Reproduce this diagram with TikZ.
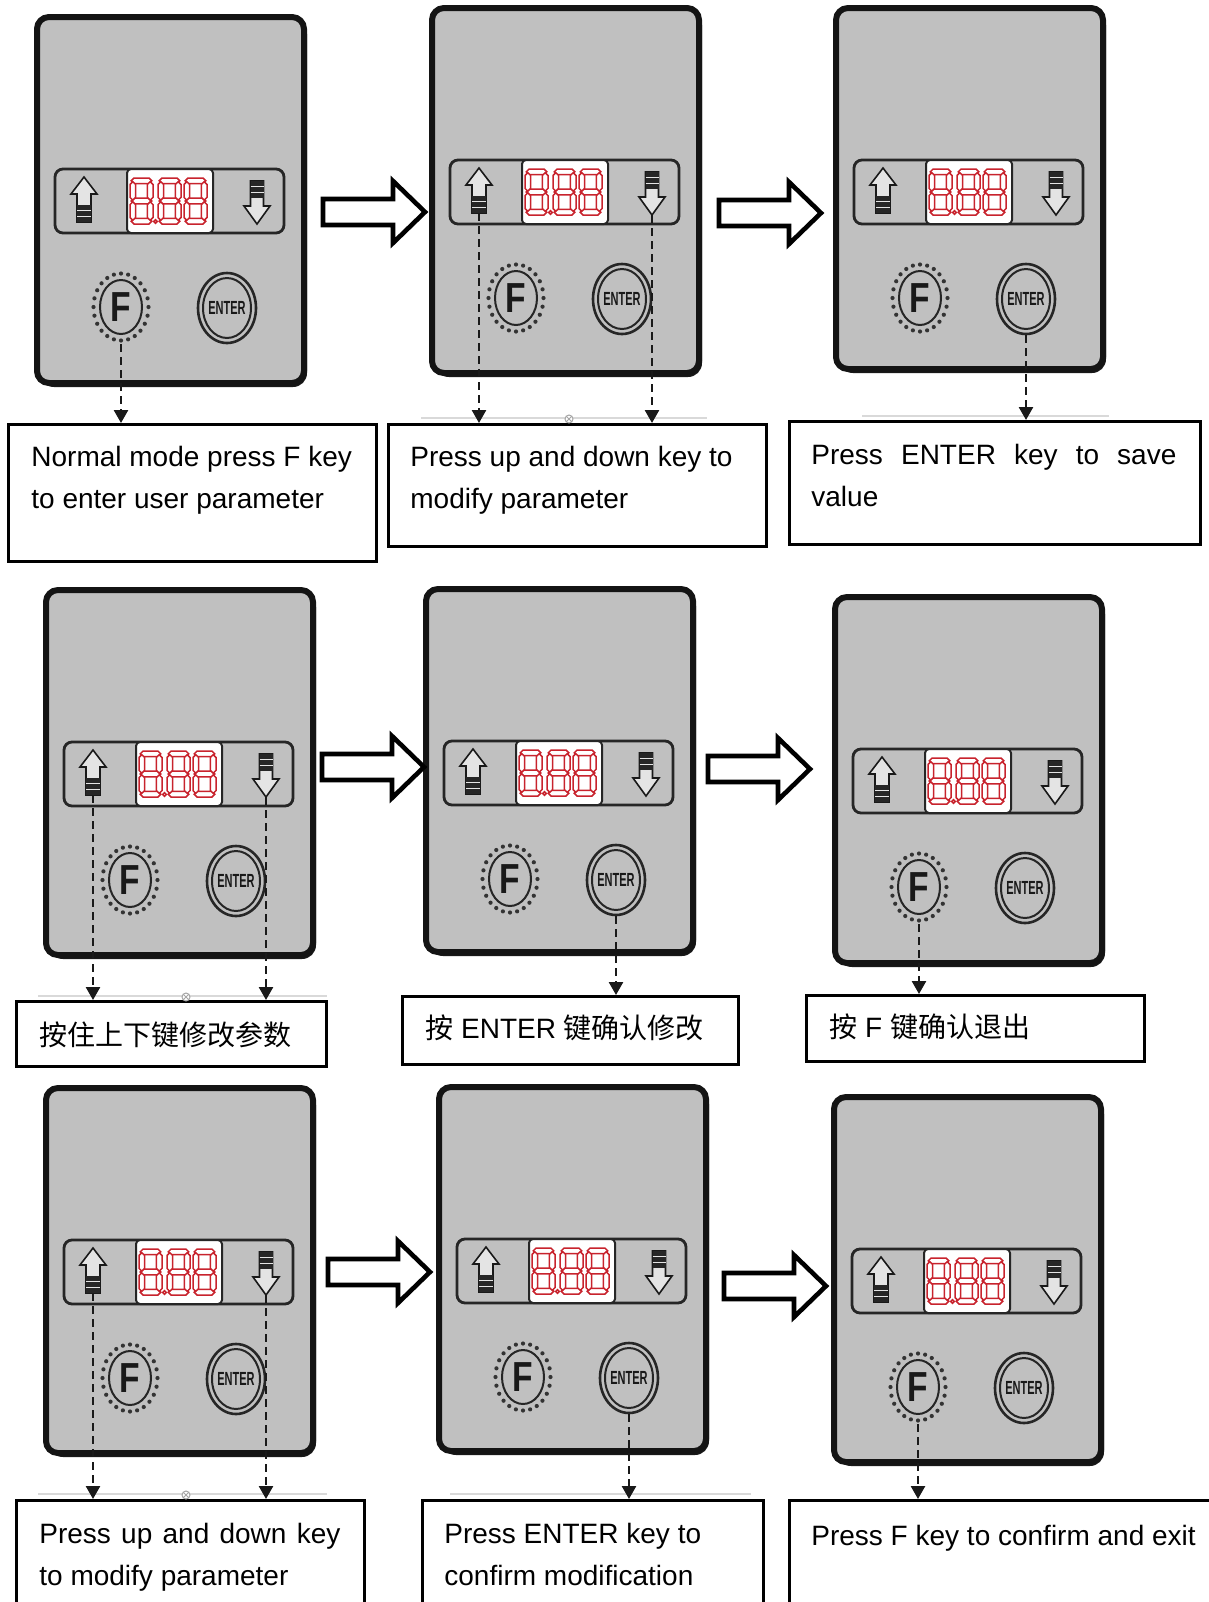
\documentclass[tikz,border=0pt]{standalone}
\usepackage{fontspec}
\usepackage{graphicx}
\setmainfont{Liberation Sans}
\newfontfamily\cjk{Noto Sans CJK SC}
\usetikzlibrary{arrows.meta,shapes.geometric}
\definecolor{panelgray}{RGB}{192,192,192}
\definecolor{segred}{RGB}{200,35,45}
\definecolor{icongray}{RGB}{228,228,228}

\newcommand\sevH[3]{\draw[seg] (#1,#2) ++(-#3/2,0) -- ++(2.8,-2.8) -- ++(#3-5.6,0) -- ++(2.8,2.8) -- ++(-2.8,2.8) -- ++(-#3+5.6,0) -- cycle;}
\newcommand\sevV[3]{\draw[seg] (#1,#2) ++(0,-#3/2) -- ++(2.8,2.8) -- ++(0,#3-5.6) -- ++(-2.8,2.8) -- ++(-2.8,-2.8) -- ++(0,-#3+5.6) -- cycle;}
\newcommand\digiteight[2]{\begin{scope}[shift={(#1,#2)}]
 \sevH{11.5}{2.8}{20.5}\sevH{11.5}{23}{20.5}\sevH{11.5}{43.2}{20.5}
 \sevV{2.8}{12.9}{18.5}\sevV{20.2}{12.9}{18.5}\sevV{2.8}{33.1}{18.5}\sevV{20.2}{33.1}{18.5}
\end{scope}}

% #1 id, #2 x, #3 y, #4 height
\newcommand\panel[4]{%
\begin{scope}[shift={(#2,#3)}]
 \fill[black!90, rounded corners=7pt] (3,3) rectangle (270,#4+4);
 \draw[panelbox] (0,0) rectangle (267,#4);
 \draw[stripbox] (18,152) rectangle (247,216);
 \draw[lcd] (90,152) rectangle (176,216);
 \digiteight{93}{161}\digiteight{121}{161}\digiteight{147}{161}
 \draw[seg] (118.5,204.5) circle (1.8);
 % up key
 \draw[icon] (47,160) -- (60,177) -- (54,177) -- (54,205) -- (40,205) -- (40,177) -- (34,177) -- cycle;
 \fill[black!85] (40,188) rectangle (54,205);
 \draw[icongray, line width=0.5pt] (40,193) -- (54,193) (40,199) -- (54,199);
 \coordinate (U#1) at (47,205);
 % down key
 \draw[icon] (213.5,164) -- (226.5,164) -- (226.5,189) -- (233,189) -- (220,207) -- (207,189) -- (213.5,189) -- cycle;
 \fill[black!85] (213.5,164) rectangle (226.5,181);
 \draw[icongray, line width=0.5pt] (213.5,169) -- (226.5,169) (213.5,175) -- (226.5,175);
 \coordinate (D#1) at (220,207);
 % F key
 \node[fkey] (F#1) at (84,290) {\scalebox{0.8}[1]{F}};
 \draw[black!85, line width=1pt] (84,290) ellipse (21 and 27);
 \foreach \a in {0,15,...,345} \fill[black!80] (84,290) ++(\a:27.5 and 33.5) circle (2.1);
 % ENTER key
 \node[ekey] (E#1) at (190,291) {\scalebox{0.58}[1]{ENTER}};
 \draw[black!85, line width=1pt] (190,291) ellipse (24 and 30);
\end{scope}}

\newcommand\blockarrow[2]{\draw[barrow] (#1,#2) ++(0,-13) -- ++(70,0) -- ++(0,-18) -- ++(32,31) -- ++(-32,31) -- ++(0,-18) -- ++(-70,0) -- cycle;}
\newcommand\tbox[5]{\node[tboxstyle, minimum width=#4*0.5pt, minimum height=#5*0.5pt] (#1) at (#2,#3) {};}
\newcommand\scanmark[2]{\draw[gray!70, line width=0.5pt, fill=white] (#1,#2) circle (4); \draw[gray!70, line width=0.4pt] (#1-2.8,#2-2.8) -- (#1+2.8,#2+2.8) (#1-2.8,#2+2.8) -- (#1+2.8,#2-2.8);}

\begin{document}
\begin{tikzpicture}[x=0.5pt,y=-0.5pt,
 panelbox/.style={draw=black!92, line width=3pt, fill=panelgray, rounded corners=6pt},
 stripbox/.style={draw=black!85, line width=1.4pt, fill=panelgray, rounded corners=4pt},
 lcd/.style={draw=black!85, line width=1pt, fill=white, rounded corners=2pt},
 seg/.style={draw=segred, line width=0.75pt, fill=white},
 icon/.style={draw=black!90, line width=0.8pt, fill=icongray, line join=miter},
 fkey/.style={ellipse, draw=none, minimum width=31pt, minimum height=37pt, inner sep=0pt, text=black!90, font=\bfseries\fontsize{21}{21}\selectfont},
 ekey/.style={ellipse, draw=black!85, line width=1.3pt, minimum width=29pt, minimum height=35pt, inner sep=0pt, text=black!90, font=\bfseries\fontsize{9.5}{9.5}\selectfont},
 barrow/.style={draw=black, line width=2.3pt, fill=white, line join=miter},
 tboxstyle/.style={draw=black, line width=1.5pt, rectangle, anchor=north west, inner sep=0pt, fill=white},
 lab/.style={anchor=base west, inner sep=0pt, font=\fontsize{14}{16}\selectfont},
 conn/.style={draw=black!90, line width=1.3pt, dash pattern=on 4pt off 2.5pt, -{Triangle[length=6.5pt,width=7pt]}},
 faint/.style={draw=gray!30, line width=0.6pt}]
\useasboundingbox (0,0) rectangle (1209,1602);
\fill[white] (0,0) rectangle (1209,1602);
\clip (0,0) rectangle (1209,1602);

% faint scan lines
\draw[faint] (421,418) -- (707,418);
\draw[faint] (862,416) -- (1109,416);
\draw[faint] (38,996) -- (327,996);
\draw[faint] (38,1494) -- (327,1494);
\draw[faint] (450,1494) -- (751,1494);

% panels
\panel{1}{37}{17}{366}
\panel{2}{432}{8}{365}
\panel{3}{836}{8}{361}
\panel{4}{46}{590}{365}
\panel{5}{426}{589}{363}
\panel{6}{835}{597}{366}
\panel{7}{46}{1088}{365}
\panel{8}{439}{1087}{364}
\panel{9}{834}{1097}{365}

% block arrows
\blockarrow{323}{212}
\blockarrow{719}{213}
\blockarrow{322}{767}
\blockarrow{708}{769}
\blockarrow{328}{1272}
\blockarrow{724}{1286}

% text boxes
\tbox{T1}{7}{423}{368}{137}
\tbox{T2}{387}{423}{378}{122}
\tbox{T3}{788}{420}{411}{123}
\tbox{T4}{15}{1000}{310}{65}
\tbox{T5}{401}{995}{336}{68}
\tbox{T6}{805}{994}{338}{66}
\tbox{T7}{15}{1499}{348}{140}
\tbox{T8}{421}{1499}{341}{140}
\tbox{T9}{788}{1499}{442}{140}

\scanmark{569}{419}
\scanmark{186}{997}
\scanmark{186}{1495}

% connectors
\draw[conn] (F1) -- (F1 |- T1.north);
\draw[conn] (U2) -- (U2 |- T2.north);
\draw[conn] (D2) -- (D2 |- T2.north);
\draw[conn] (E3) -- (E3 |- T3.north);
\draw[conn] (U4) -- (U4 |- T4.north);
\draw[conn] (D4) -- (D4 |- T4.north);
\draw[conn] (E5) -- (E5 |- T5.north);
\draw[conn] (F6) -- (F6 |- T6.north);
\draw[conn] (U7) -- (U7 |- T7.north);
\draw[conn] (D7) -- (D7 |- T7.north);
\draw[conn] (E8) -- (E8 |- T8.north);
\draw[conn] (F9) -- (F9 |- T9.north);

% labels
\node[lab] (L1a) at (31,466) {Normal mode press F key};
\node[lab] (L1b) at (31,508) {to enter user parameter};
\node[lab] (L2a) at (410,466) {Press up and down key to};
\node[lab] (L2b) at (410,508) {modify parameter};
\node[lab] (L3a) at (811,464) {\makebox[182.5pt][s]{Press ENTER key to save}};
\node[lab] (L3b) at (811,506) {value};
\node[lab] (L4) at (39,1045) {\cjk 按住上下键修改参数};
\node[lab] (L5) at (425,1038) {{\cjk 按} ENTER {\cjk 键确认修改}};
\node[lab] (L6) at (829,1037) {{\cjk 按} F {\cjk 键确认退出}};
\node[lab] (L7a) at (39,1543) {\makebox[150.5pt][s]{Press up and down key}};
\node[lab] (L7b) at (39,1585) {to modify parameter};
\node[lab] (L8a) at (444,1543) {Press ENTER key to};
\node[lab] (L8b) at (444,1585) {confirm modification};
\node[lab] (L9) at (811,1545) {Press F key to confirm and exit};
\end{tikzpicture}
\end{document}
